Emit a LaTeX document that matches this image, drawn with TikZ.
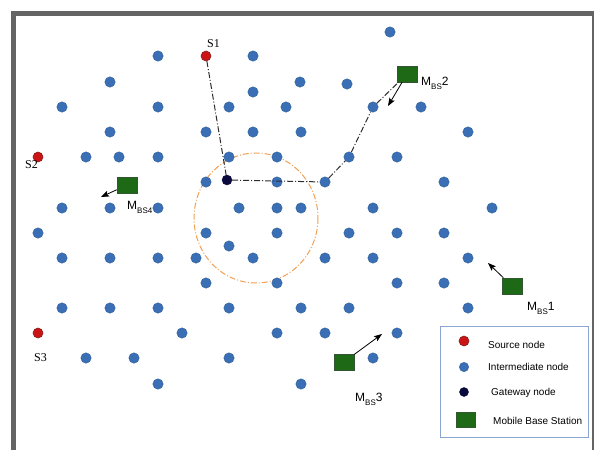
\documentclass[tikz,border=0pt]{standalone}
\usepackage{fontspec}
\setmainfont{Liberation Serif}
\newfontfamily\sansf{Liberation Sans}
\usetikzlibrary{arrows.meta}
\definecolor{dotblue}{RGB}{58,111,181}
\definecolor{dotblueline}{RGB}{45,90,150}
\definecolor{srcred}{RGB}{204,20,20}
\definecolor{srcredline}{RGB}{130,30,30}
\definecolor{gwblue}{RGB}{10,10,60}
\definecolor{mbsgreen}{RGB}{30,105,22}
\definecolor{mbsline}{RGB}{50,85,50}
\definecolor{framegray}{RGB}{100,100,100}
\definecolor{ringorange}{RGB}{240,160,85}
\definecolor{legendline}{RGB}{140,165,210}
\definecolor{pathgray}{RGB}{45,45,45}
\tikzset{
  idot/.style={circle,fill=dotblue,draw=dotblueline,line width=0.3pt,minimum size=10.5pt,inner sep=0pt},
  sdot/.style={circle,fill=srcred,draw=srcredline,line width=0.6pt,minimum size=10pt,inner sep=0pt},
  gdot/.style={circle,fill=gwblue,draw=gwblue,minimum size=10pt,inner sep=0pt},
  mbsbox/.style={rectangle,fill=mbsgreen,draw=mbsline,line width=0.5pt,minimum width=20pt,minimum height=16pt,inner sep=0pt},
  routeline/.style={draw=pathgray,line width=1pt,dash pattern=on 6pt off 2pt on 1pt off 2pt},
  movearrow/.style={draw=black,line width=0.8pt,-{Stealth[length=8pt,width=6pt,inset=1.5pt]}},
  slabel/.style={anchor=base west,inner sep=0pt,font=\fontsize{12}{12}\selectfont},
  mlabel/.style={anchor=base west,inner sep=0pt,font=\sansf\fontsize{12}{12}\selectfont},
  legtext/.style={anchor=west,inner sep=0pt,font=\sansf\fontsize{10}{10}\selectfont},
}
\newcommand{\msub}[1]{\raisebox{-4pt}{\fontsize{8}{8}\selectfont #1}}
\begin{document}
\begin{tikzpicture}[x=1pt,y=-1pt]
\useasboundingbox (0,0) rectangle (595,450);
% frame
\fill[framegray] (11,11) rectangle (594,16);
\fill[framegray] (11,11) rectangle (16,450);
\fill[framegray] (592,11) rectangle (594,450);
% ring
\draw[ringorange,line width=1pt,dash pattern=on 6pt off 2pt on 1pt off 2pt] (256,218) ellipse [x radius=62,y radius=65];
% intermediate nodes
\foreach \px/\py [count=\i] in {
390/32,
158/56, 253/56,
110/82, 300/82, 347/84,
253/92,
62/107, 158/107, 229/107, 286/107, 421/107,
110/132, 206/132, 253/132, 301/132, 468/132,
86/157, 119/157, 158/157, 229/157, 277/157, 397/157,
206/182, 277/182, 444/182,
62/208, 110/208, 158/208, 239/208, 277/208, 301/208, 373/208, 492/208,
38/233, 206/233, 277/233, 349/233, 397/233, 444/233,
229/246,
62/258, 110/258, 158/258, 196/258, 253/258, 325/258, 373/258, 468/258,
206/283, 277/283, 397/283, 444/283,
62/308, 110/308, 158/308, 229/308, 301/308, 349/308, 468/308,
182/333, 277/333, 325/333, 397/333,
86/358, 134/358, 229/358, 373/358,
158/384, 301/384}
  \node[idot] (n\i) at (\px,\py) {};
% route nodes
\node[idot] (p1) at (325,182) {};
\node[idot] (p2) at (349,157) {};
\node[idot] (p3) at (373,107) {};
\node[gdot] (gw) at (227,180) {};
% sources
\node[sdot] (s1) at (206,56) {};
\node[sdot] (s2) at (38,157) {};
\node[sdot] (s3) at (38,333) {};
\node[slabel] (s1l) at (207,47) {S1};
\node[slabel] (s2l) at (25,168) {S2};
\node[slabel] (s3l) at (34,361) {S3};
% mobile base stations
\node[mbsbox] (mbs1) at (512,286) {};
\node[mbsbox] (mbs2) at (407,74) {};
\node[mbsbox] (mbs3) at (344,362) {};
\node[mbsbox] (mbs4) at (127,185) {};
\node[mlabel] (m1l) at (527,310) {M\msub{BS}1};
\node[mlabel] (m2l) at (421,85) {M\msub{BS}2};
\node[mlabel] (m3l) at (355,401) {M\msub{BS}3};
\node[mlabel] (m4l) at (127,209) {M\msub{BS4}};
% route
\draw[routeline] (s1) -- (gw);
\draw[routeline] (gw) -- (p1);
\draw[routeline] (p1) -- (p2);
\draw[routeline] (p2) -- (p3);
\draw[routeline] (p3) -- (mbs2);
% movement arrows
\coordinate (a1) at (488,263);
\coordinate (a2) at (388,106);
\coordinate (a3) at (382,334);
\coordinate (a4) at (101,197);
\draw[movearrow] (mbs1) -- (a1);
\draw[movearrow] (mbs2) -- (a2);
\draw[movearrow] (mbs3) -- (a3);
\draw[movearrow] (mbs4) -- (a4);
% legend
\node[draw=legendline,line width=1pt,minimum width=148pt,minimum height=111pt,anchor=north west,inner sep=0pt] (legend) at (440,326) {};
\node[sdot] (lsrc) at (464,341) {};
\node[idot,minimum size=9.5pt] (lint) at (464,367) {};
\node[gdot,minimum size=9pt] (lgw) at (464,392) {};
\node[mbsbox,minimum width=19pt,minimum height=15pt] (lmbs) at (466,420) {};
\node[legtext] (tsrc) at (488,345) {Source node};
\node[legtext] (tint) at (488,367) {Intermediate node};
\node[legtext] (tgw) at (491,393) {Gateway node};
\node[legtext] (tmbs) at (493,421) {Mobile Base Station};
\end{tikzpicture}
\end{document}
